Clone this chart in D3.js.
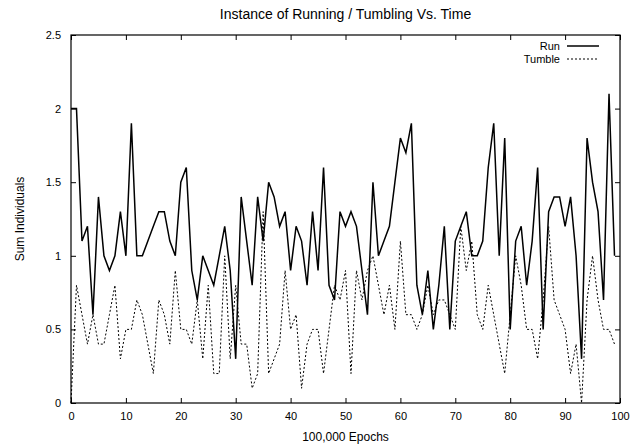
<!DOCTYPE html>
<html>
<head>
<meta charset="utf-8">
<script src="https://cdn.jsdelivr.net/npm/d3@7"></script>
<style>
  body { margin: 0; background: #fff; }
  text { font-family: "Liberation Sans", Arial, sans-serif; fill: #000; }
</style>
</head>
<body>
<script>
// Data
const epochs = d3.range(0, 100);
const runValues = [
  2, 2, 1.1, 1.2, 0.6, 1.4, 1.0, 0.9, 1.0, 1.3,
  1.0, 1.9, 1.0, 1.0, 1.1, 1.2, 1.3, 1.3, 1.1, 1.0,
  1.5, 1.6, 0.9, 0.7, 1.0, 0.9, 0.8, 1.0, 1.2, 0.9,
  0.3, 1.4, 1.1, 0.8, 1.4, 1.1, 1.5, 1.4, 1.2, 1.3,
  0.9, 1.2, 1.1, 0.8, 1.3, 0.9, 1.6, 0.8, 0.7, 1.3,
  1.2, 1.3, 1.2, 0.9, 0.6, 1.5, 1.0, 1.1, 1.2, 1.5,
  1.8, 1.7, 1.9, 0.8, 0.6, 0.9, 0.5, 0.8, 1.2, 0.5,
  1.1, 1.2, 1.3, 1.0, 1.0, 1.1, 1.6, 1.9, 1.0, 1.8,
  0.5, 1.1, 1.2, 0.8, 1.1, 1.6, 0.5, 1.3, 1.4, 1.4,
  1.2, 1.4, 1.0, 0.3, 1.8, 1.5, 1.3, 0.7, 2.1, 1.0
];
const tumbleValues = [
  0, 0.8, 0.6, 0.4, 0.6, 0.4, 0.4, 0.6, 0.8, 0.3,
  0.5, 0.5, 0.7, 0.6, 0.4, 0.2, 0.7, 0.6, 0.4, 0.9,
  0.5, 0.5, 0.4, 0.7, 0.3, 0.8, 0.2, 0.2, 1.0, 0.3,
  0.8, 0.4, 0.4, 0.1, 0.2, 1.3, 0.2, 0.3, 0.4, 0.9,
  0.5, 0.6, 0.1, 0.4, 0.5, 0.5, 0.2, 0.5, 0.8, 0.7,
  0.9, 0.2, 0.9, 0.7, 0.9, 1.0, 0.8, 0.6, 0.8, 0.5,
  1.1, 0.6, 0.6, 0.5, 0.6, 0.8, 0.6, 0.7, 0.7, 0.6,
  0.5, 1.2, 0.9, 1.1, 0.6, 0.5, 0.8, 0.6, 0.4, 0.2,
  0.6, 1.0, 0.8, 0.5, 0.5, 0.3, 0.7, 1.2, 0.7, 0.6,
  0.5, 0.2, 0.4, 0.0, 0.7, 1.0, 0.7, 0.5, 0.5, 0.4
];
const xTicks = [0, 10, 20, 30, 40, 50, 60, 70, 80, 90, 100];
const yTicks = [0, 0.5, 1, 1.5, 2, 2.5];
const seriesNames = ['Run', 'Tumble'];

const width = 641, height = 447;
const margin = {top: 35, right: 21, bottom: 44, left: 71};
const innerW = width - margin.left - margin.right;
const innerH = height - margin.top - margin.bottom;

let svg = d3.select('body').append('svg')
  .attr('width', width)
  .attr('height', height);

let x = d3.scaleLinear().domain([0, 100]).range([margin.left, margin.left + innerW]);
let y = d3.scaleLinear().domain([0, 2.5]).range([margin.top + innerH, margin.top]);

// Title
svg.append('text')
  .attr('x', margin.left + innerW / 2)
  .attr('y', 19)
  .attr('text-anchor', 'middle')
  .style('font-size', '14px')
  .text('Instance of Running / Tumbling Vs. Time');

// Axes, gnuplot style: ticks inside, mirrored
const tickLen = 5;
svg.append('g')
  .attr('transform', `translate(0,${margin.top + innerH})`)
  .call(d3.axisBottom(x).tickValues(xTicks).tickSizeInner(-tickLen).tickSizeOuter(0).tickPadding(9))
  .call(g => g.select('.domain').remove());
svg.append('g')
  .attr('transform', `translate(0,${margin.top})`)
  .call(d3.axisTop(x).tickValues(xTicks).tickSizeInner(-tickLen).tickSizeOuter(0).tickFormat(''))
  .call(g => g.select('.domain').remove());
svg.append('g')
  .attr('transform', `translate(${margin.left},0)`)
  .call(d3.axisLeft(y).tickValues(yTicks).tickSizeInner(-tickLen).tickSizeOuter(0).tickPadding(10).tickFormat(d3.format('')))
  .call(g => g.select('.domain').remove());
svg.append('g')
  .attr('transform', `translate(${margin.left + innerW},0)`)
  .call(d3.axisRight(y).tickValues(yTicks).tickSizeInner(-tickLen).tickSizeOuter(0).tickFormat(''))
  .call(g => g.select('.domain').remove());

svg.selectAll('.tick text')
  .style('font-size', '11px')
  .style('font-family', '"Liberation Sans", Arial, sans-serif');
svg.selectAll('.tick line').attr('stroke', '#000');

// Frame
svg.append('rect')
  .attr('x', margin.left)
  .attr('y', margin.top)
  .attr('width', innerW)
  .attr('height', innerH)
  .attr('fill', 'none')
  .attr('stroke', '#000')
  .attr('stroke-width', 1.2);

// Axis labels
svg.append('text')
  .attr('x', margin.left + innerW / 2)
  .attr('y', 441)
  .attr('text-anchor', 'middle')
  .style('font-size', '12px')
  .text('100,000 Epochs');
svg.append('text')
  .attr('transform', `translate(24,${margin.top + innerH / 2}) rotate(-90)`)
  .attr('text-anchor', 'middle')
  .style('font-size', '12px')
  .text('Sum Individuals');

// Lines
let line = d3.line()
  .x((d, i) => x(epochs[i]))
  .y(d => y(d));

svg.append('path')
  .datum(runValues)
  .attr('fill', 'none')
  .attr('stroke', '#000')
  .attr('stroke-width', 1.5)
  .attr('d', line);

svg.append('path')
  .datum(tumbleValues)
  .attr('fill', 'none')
  .attr('stroke', '#000')
  .attr('stroke-width', 1)
  .attr('stroke-dasharray', '2,2')
  .attr('d', line);

// Legend
let legend = svg.append('g');
const legendStyles = [{dash: null, w: 1.5}, {dash: '2,2', w: 1}];
seriesNames.forEach((name, i) => {
  let ly = 46 + i * 13;
  legend.append('text')
    .attr('x', 560)
    .attr('y', ly + 4)
    .attr('text-anchor', 'end')
    .style('font-size', '11px')
    .text(name);
  legend.append('line')
    .attr('x1', 567)
    .attr('x2', 599)
    .attr('y1', ly)
    .attr('y2', ly)
    .attr('stroke', '#000')
    .attr('stroke-width', legendStyles[i].w)
    .attr('stroke-dasharray', legendStyles[i].dash);
});
</script>
</body>
</html>
